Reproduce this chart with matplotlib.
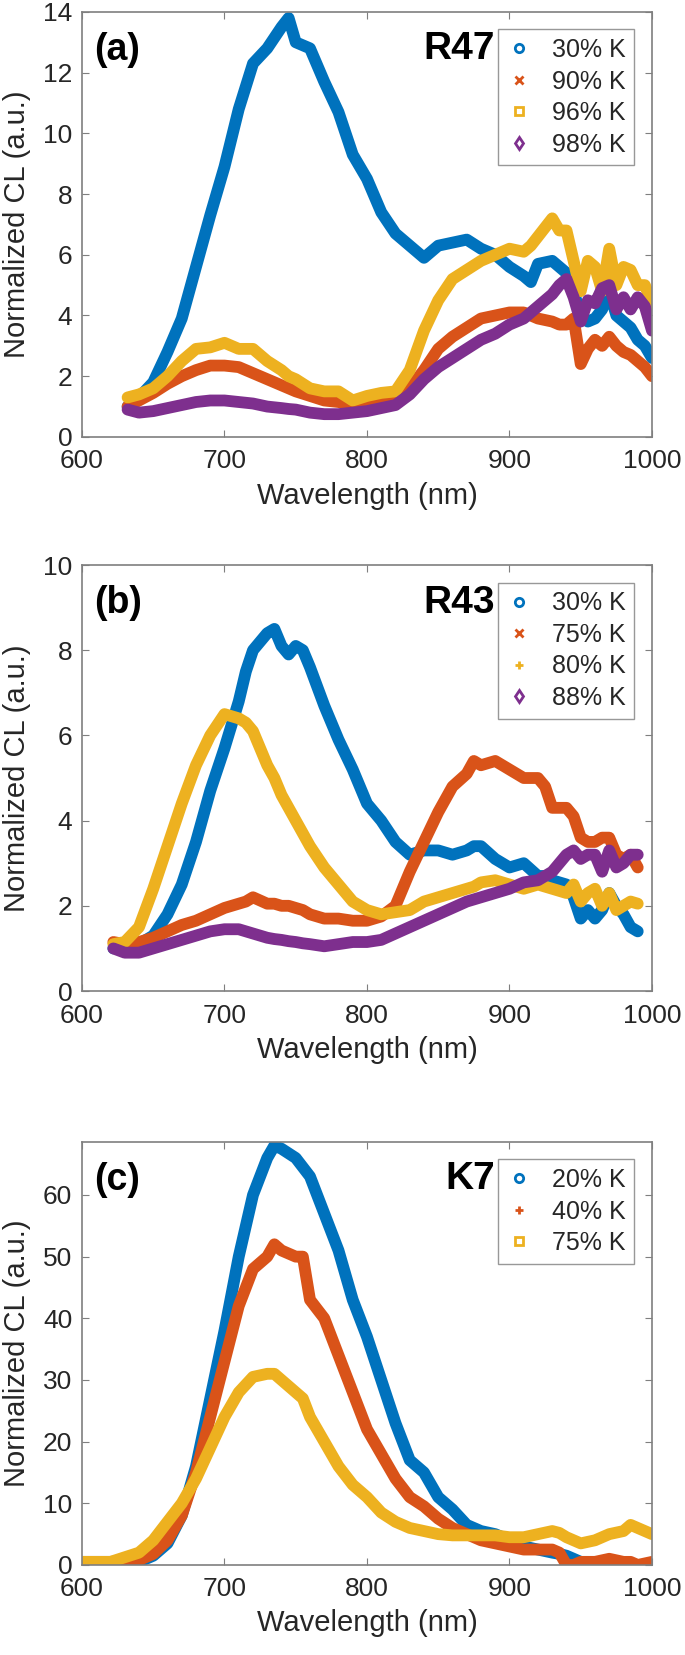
import matplotlib
matplotlib.use('Agg')
import matplotlib.pyplot as plt
from matplotlib.lines import Line2D

plt.rcParams['font.family'] = ['Liberation Sans', 'DejaVu Sans']

# colores MATLAB por defecto
azul = '#0072BD'
naranja = '#D95319'
amarillo = '#EDB120'
morado = '#7E2F8E'

# ---- (a) R47 ----
wl_a = [632, 640, 650, 660, 670, 680, 690, 700, 710, 720, 730, 740, 745, 750, 760, 770, 780, 790,
        800, 810, 820, 830, 840, 850, 860, 870, 880, 890, 900, 910, 915, 920, 930, 935, 940, 945,
        950, 955, 960, 965, 970, 975, 980, 985, 990, 995, 1000]
a_30 = [1.0, 1.3, 1.8, 2.8, 3.9, 5.6, 7.3, 8.9, 10.8, 12.3, 12.8, 13.5, 13.8, 13.0, 12.8, 11.7, 10.7, 9.3,
        8.5, 7.4, 6.7, 6.3, 5.9, 6.3, 6.4, 6.5, 6.2, 6.0, 5.6, 5.3, 5.1, 5.7, 5.8, 5.6, 5.4, 4.8,
        4.0, 3.8, 3.9, 4.2, 4.8, 4.0, 3.8, 3.6, 3.2, 3.0, 2.6]
a_90 = [1.0, 1.2, 1.45, 1.75, 2.0, 2.2, 2.35, 2.35, 2.3, 2.1, 1.9, 1.7, 1.6, 1.5, 1.35, 1.2, 1.15, 1.05,
        1.1, 1.15, 1.2, 1.6, 2.2, 2.9, 3.3, 3.6, 3.9, 4.0, 4.1, 4.1, 4.0, 3.9, 3.8, 3.7, 3.7, 3.9,
        2.4, 2.9, 3.2, 3.0, 3.3, 3.0, 2.8, 2.7, 2.5, 2.3, 2.0]
a_96 = [1.3, 1.4, 1.6, 2.0, 2.5, 2.9, 2.95, 3.1, 2.9, 2.9, 2.5, 2.2, 2.0, 1.9, 1.6, 1.5, 1.5, 1.2,
        1.35, 1.45, 1.5, 2.2, 3.5, 4.5, 5.2, 5.5, 5.8, 6.0, 6.2, 6.1, 6.3, 6.6, 7.2, 6.8, 6.8, 5.8,
        4.8, 5.8, 5.6, 4.8, 6.2, 5.0, 5.6, 5.5, 5.0, 5.0, 4.4]
a_98 = [0.9, 0.8, 0.85, 0.95, 1.05, 1.15, 1.2, 1.2, 1.15, 1.1, 1.0, 0.95, 0.92, 0.9, 0.8, 0.75, 0.75, 0.8,
        0.85, 0.95, 1.05, 1.4, 1.9, 2.3, 2.6, 2.9, 3.2, 3.4, 3.7, 3.9, 4.1, 4.3, 4.7, 5.0, 5.2, 4.6,
        3.8, 4.5, 4.4, 4.9, 5.0, 4.2, 4.6, 4.2, 4.6, 4.3, 3.5]

# ---- (b) R43 ----
wl_b = [622, 630, 640, 650, 660, 670, 680, 690, 700, 710, 715, 720, 730, 735, 740, 745, 750, 755, 760,
        770, 780, 790, 800, 810, 820, 830, 840, 850, 860, 870, 875, 880, 890, 900, 910, 920, 925,
        930, 940, 945, 950, 955, 960, 965, 970, 975, 980, 985, 990]
b_30 = [1.0, 1.05, 1.1, 1.3, 1.8, 2.5, 3.5, 4.7, 5.7, 6.8, 7.5, 8.0, 8.4, 8.5, 8.1, 7.9, 8.1, 8.0, 7.6,
        6.7, 5.9, 5.2, 4.4, 4.0, 3.5, 3.2, 3.3, 3.3, 3.2, 3.3, 3.4, 3.4, 3.1, 2.9, 3.0, 2.7, 2.7,
        2.6, 2.5, 2.2, 1.7, 1.9, 1.7, 1.9, 2.3, 2.0, 1.8, 1.5, 1.4]
b_75 = [1.15, 1.1, 1.15, 1.25, 1.4, 1.55, 1.65, 1.8, 1.95, 2.05, 2.1, 2.2, 2.05, 2.05, 2.0, 2.0, 1.95, 1.9, 1.8,
        1.7, 1.7, 1.65, 1.65, 1.75, 2.0, 2.8, 3.5, 4.2, 4.8, 5.1, 5.4, 5.3, 5.4, 5.2, 5.0, 5.0, 4.8,
        4.3, 4.3, 4.1, 3.6, 3.5, 3.5, 3.6, 3.6, 3.2, 3.1, 3.2, 2.9]
b_80 = [1.1, 1.15, 1.5, 2.4, 3.4, 4.4, 5.3, 6.0, 6.5, 6.4, 6.3, 6.1, 5.3, 5.0, 4.6, 4.3, 4.0, 3.7, 3.4,
        2.9, 2.5, 2.1, 1.9, 1.8, 1.85, 1.9, 2.1, 2.2, 2.3, 2.4, 2.45, 2.55, 2.6, 2.5, 2.4, 2.5, 2.45,
        2.4, 2.3, 2.5, 2.1, 2.3, 2.4, 2.0, 2.3, 1.9, 2.0, 2.1, 2.05]
b_88 = [1.0, 0.9, 0.9, 1.0, 1.1, 1.2, 1.3, 1.4, 1.45, 1.45, 1.4, 1.35, 1.25, 1.22, 1.2, 1.17, 1.15, 1.12, 1.1,
        1.05, 1.1, 1.15, 1.15, 1.2, 1.35, 1.5, 1.65, 1.8, 1.95, 2.1, 2.15, 2.2, 2.3, 2.4, 2.55, 2.6, 2.7,
        2.8, 3.2, 3.3, 3.1, 3.2, 3.2, 2.8, 3.3, 2.9, 3.0, 3.2, 3.2]

# ---- (c) K7 ----
wl_c = [600, 620, 640, 650, 660, 670, 680, 690, 700, 710, 720, 730, 735, 740, 750, 755, 760, 770, 780,
        790, 800, 810, 820, 830, 840, 850, 860, 870, 880, 890, 900, 910, 920, 930, 935, 940, 945,
        950, 960, 970, 980, 985, 990, 1000]
c_20 = [0.5, 0.5, 0.5, 1.5, 3.5, 8, 16, 27, 38, 50, 60, 66, 68, 67.5, 66, 64.5, 63, 57, 51,
        43, 37, 30, 23, 17, 15, 11, 9, 6.5, 5.5, 5, 4, 3, 2.5, 2, 1.8, 1.5, 1,
        0.5, 0.5, 0, 0, 0, 0, 0]
c_40 = [0.5, 0.5, 0.8, 1.8, 4, 8, 15, 24, 33, 42, 48, 50, 52, 51, 50, 50, 43, 40, 34,
        28, 22, 18, 14, 11, 9.5, 7.5, 6, 5, 4, 3.5, 3, 2.5, 2.5, 2.5, 2, 0, 0,
        0.5, 0.5, 1, 0.5, 0.5, 0, 0.5]
c_75 = [0.5, 0.5, 2, 4, 7, 10, 14, 19, 24, 28, 30.5, 31, 31, 30, 28, 27, 24, 20, 16,
        13, 11, 8.5, 7, 6, 5.5, 5, 4.8, 4.8, 4.8, 4.8, 4.5, 4.5, 5, 5.5, 5.2, 4.5, 4,
        3.5, 4, 5, 5.5, 6.5, 6, 5]

paneles = [
    ('(a)', 'R47', wl_a, [a_30, a_90, a_96, a_98], ['30% K', '90% K', '96% K', '98% K'],
     [azul, naranja, amarillo, morado], ['o', 'x', 's', 'd'], (0, 14), range(0, 15, 2)),
    ('(b)', 'R43', wl_b, [b_30, b_75, b_80, b_88], ['30% K', '75% K', '80% K', '88% K'],
     [azul, naranja, amarillo, morado], ['o', 'x', '+', 'd'], (0, 10), range(0, 11, 2)),
    ('(c)', 'K7', wl_c, [c_20, c_40, c_75], ['20% K', '40% K', '75% K'],
     [azul, naranja, amarillo], ['o', '+', 's'], (0, 68.6), range(0, 61, 10)),
]

# posiciones de los ejes (fracciones de la figura)
posiciones = [[0.1197, 0.7360, 0.8321, 0.2568],
              [0.1197, 0.4012, 0.8321, 0.2574],
              [0.1197, 0.0544, 0.8321, 0.2556]]

fig = plt.figure(figsize=(6.85, 16.55), dpi=100)
gris = '#7f7f7f'

for (letra, nombre, wl, series, etiquetas, colores, marcadores, ylim, yticks), pos in zip(paneles, posiciones):
    ax = fig.add_axes(pos)
    for y, c, m in zip(series, colores, marcadores):
        ax.plot(wl, y, color=c, lw=8.5, solid_capstyle='round', solid_joinstyle='round')
    ax.set_xlim(600, 1000)
    ax.set_ylim(*ylim)
    ax.set_xticks([600, 700, 800, 900, 1000])
    ax.set_yticks(list(yticks))
    ax.tick_params(direction='in', top=True, right=True, length=5, width=0.8, color=gris,
                   labelsize=19, labelcolor='#262626')
    ax.tick_params(axis='x', pad=9)
    ax.tick_params(axis='y', pad=7)
    for s in ax.spines.values():
        s.set_color(gris)
        s.set_linewidth(1.2)
    ax.set_xlabel('Wavelength (nm)', fontsize=21, color='#262626')
    ax.set_ylabel('Normalized CL (a.u.)', fontsize=21, color='#262626')
    ax.xaxis.set_label_coords(0.5, -0.105)
    ax.yaxis.set_label_coords(-0.09, 0.5)

    ax.text(0.021, 0.91, letra, transform=ax.transAxes, fontsize=27, fontweight='bold',
            ha='left', va='center')
    ax.text(0.725, 0.912, nombre, transform=ax.transAxes, fontsize=28, fontweight='bold',
            ha='right', va='center')

    manijas = [Line2D([], [], ls='none', marker=m, color=c, mfc='none', mew=2, ms=6)
               for c, m in zip(colores, marcadores)]
    leg = ax.legend(manijas, etiquetas, loc='upper right', fontsize=18, frameon=True,
                    fancybox=False, edgecolor=gris, borderaxespad=0.7, handlelength=1.0,
                    handletextpad=0.8, labelspacing=0.3, borderpad=0.35)
    leg.get_frame().set_linewidth(1.0)
    for t in leg.get_texts():
        t.set_color('#262626')

fig.savefig('out.png', dpi=100)
